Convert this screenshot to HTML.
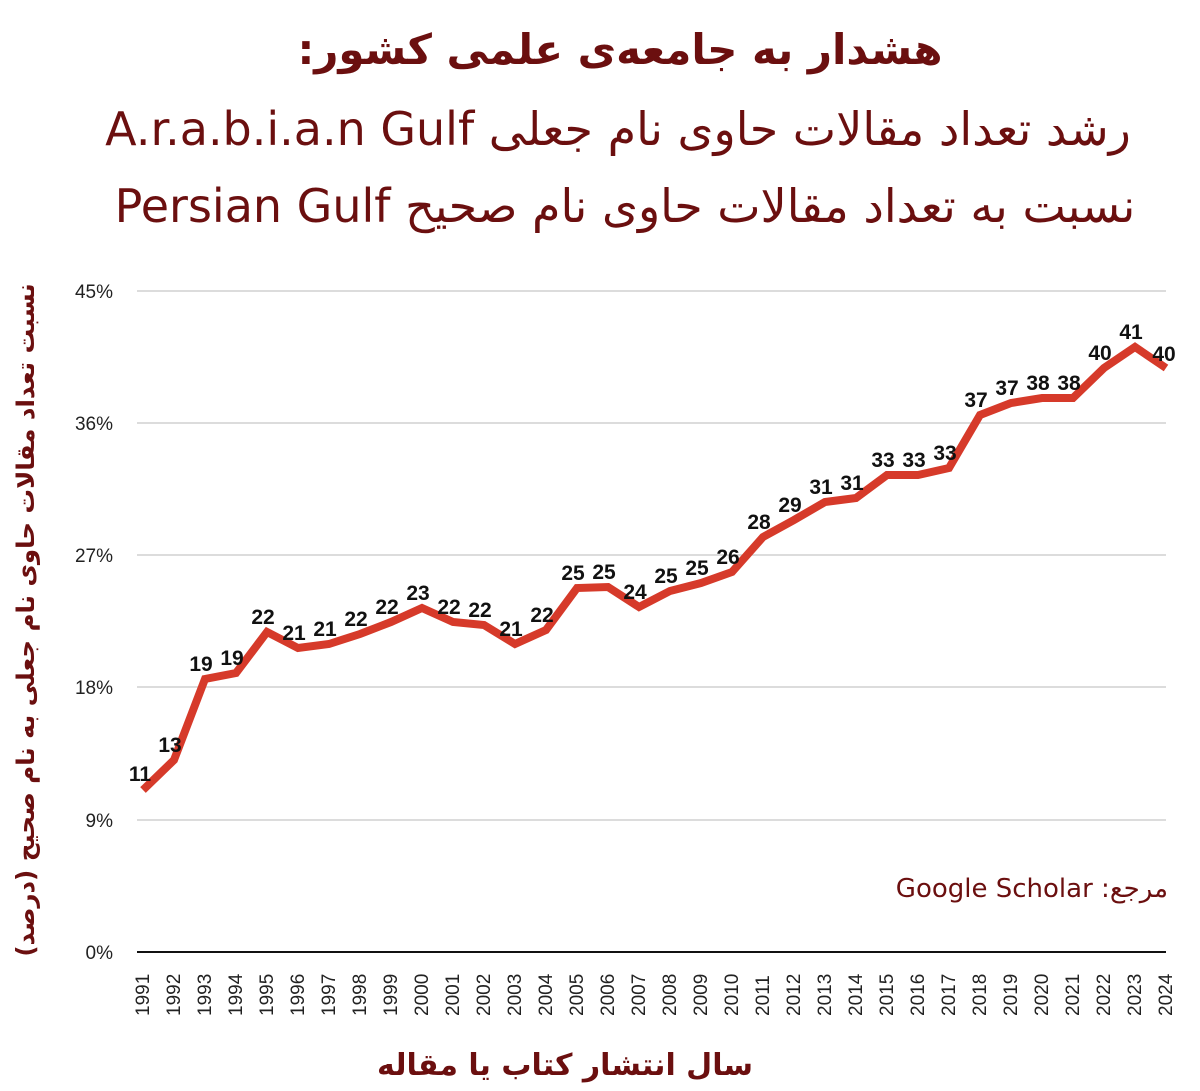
<!DOCTYPE html>
<html><head><meta charset="utf-8"><style>
body{margin:0;background:#fff;}
svg{display:block}
.t{font-family:"DejaVu Sans","Liberation Sans",sans-serif;fill:#6b0f0f}
.ax{font-family:"Liberation Sans",sans-serif;font-size:19px;fill:#222}
.lb{font-family:"Liberation Sans",sans-serif;font-size:21px;font-weight:bold;fill:#111}
</style></head><body>
<svg width="1200" height="1091" viewBox="0 0 1200 1091" xmlns="http://www.w3.org/2000/svg">
<text class="t" x="620" y="64" text-anchor="middle" font-size="42" font-weight="bold" direction="rtl">هشدار به جامعه‌ی علمی کشور:</text>
<text class="t" x="618" y="145" text-anchor="middle" font-size="46" direction="rtl">رشد تعداد مقالات حاوی نام جعلی A.r.a.b.i.a.n Gulf</text>
<text class="t" x="625" y="222" text-anchor="middle" font-size="46" direction="rtl">نسبت به تعداد مقالات حاوی نام صحیح Persian Gulf</text>
<g stroke="#c8c8c8" stroke-width="1.2">
<line x1="137" y1="291" x2="1166" y2="291"/><line x1="137" y1="423" x2="1166" y2="423"/>
<line x1="137" y1="555" x2="1166" y2="555"/><line x1="137" y1="687" x2="1166" y2="687"/>
<line x1="137" y1="820" x2="1166" y2="820"/></g>
<line x1="137" y1="952" x2="1166" y2="952" stroke="#111" stroke-width="2"/>
<g class="ax" text-anchor="end">
<text x="113" y="298">45%</text><text x="113" y="430">36%</text><text x="113" y="562">27%</text>
<text x="113" y="694">18%</text><text x="113" y="827">9%</text><text x="113" y="959">0%</text></g>
<text class="t" transform="translate(34,620) rotate(-90)" text-anchor="middle" font-size="24.5" font-weight="bold" direction="rtl">نسبت تعداد مقالات حاوی نام جعلی به نام صحیح (درصد)</text>
<text class="t" x="565" y="1075" text-anchor="middle" font-size="30" font-weight="bold" direction="rtl">سال انتشار کتاب یا مقاله</text>
<text class="t" x="1168" y="897" text-anchor="end" font-size="26" font-family="Liberation Sans">Google Scholar :مرجع</text>
<g class="ax" font-size="19">
<text transform="translate(149,1016) rotate(-90)">1991</text><text transform="translate(180,1016) rotate(-90)">1992</text><text transform="translate(211,1016) rotate(-90)">1993</text><text transform="translate(242,1016) rotate(-90)">1994</text><text transform="translate(273,1016) rotate(-90)">1995</text><text transform="translate(304,1016) rotate(-90)">1996</text><text transform="translate(335,1016) rotate(-90)">1997</text><text transform="translate(366,1016) rotate(-90)">1998</text><text transform="translate(397,1016) rotate(-90)">1999</text><text transform="translate(428,1016) rotate(-90)">2000</text><text transform="translate(459,1016) rotate(-90)">2001</text><text transform="translate(490,1016) rotate(-90)">2002</text><text transform="translate(521,1016) rotate(-90)">2003</text><text transform="translate(552,1016) rotate(-90)">2004</text><text transform="translate(583,1016) rotate(-90)">2005</text><text transform="translate(614,1016) rotate(-90)">2006</text><text transform="translate(645,1016) rotate(-90)">2007</text><text transform="translate(676,1016) rotate(-90)">2008</text><text transform="translate(707,1016) rotate(-90)">2009</text><text transform="translate(738,1016) rotate(-90)">2010</text><text transform="translate(769,1016) rotate(-90)">2011</text><text transform="translate(800,1016) rotate(-90)">2012</text><text transform="translate(831,1016) rotate(-90)">2013</text><text transform="translate(862,1016) rotate(-90)">2014</text><text transform="translate(893,1016) rotate(-90)">2015</text><text transform="translate(924,1016) rotate(-90)">2016</text><text transform="translate(955,1016) rotate(-90)">2017</text><text transform="translate(986,1016) rotate(-90)">2018</text><text transform="translate(1017,1016) rotate(-90)">2019</text><text transform="translate(1048,1016) rotate(-90)">2020</text><text transform="translate(1079,1016) rotate(-90)">2021</text><text transform="translate(1110,1016) rotate(-90)">2022</text><text transform="translate(1141,1016) rotate(-90)">2023</text><text transform="translate(1172,1016) rotate(-90)">2024</text>
</g>
<polyline fill="none" stroke="#d63a2a" stroke-width="8" points="143,790 174,760 205,679 236,673 267,632 298,648 329,644 360,634 391,622 422,608 453,622 484,625 515,644 546,630 577,588 608,587 639,607 670,591 701,583 732,572 763,537 794,520 825,502 856,498 887,475 918,475 949,468 980,415 1011,403 1042,398 1073,398 1104,368 1135,347 1166,368"/>
<g class="lb" text-anchor="middle">
<text x="140" y="781">11</text><text x="170" y="752">13</text><text x="201" y="671">19</text><text x="232" y="665">19</text><text x="263" y="624">22</text><text x="294" y="640">21</text><text x="325" y="636">21</text><text x="356" y="626">22</text><text x="387" y="614">22</text><text x="418" y="600">23</text><text x="449" y="614">22</text><text x="480" y="617">22</text><text x="511" y="636">21</text><text x="542" y="622">22</text><text x="573" y="580">25</text><text x="604" y="579">25</text><text x="635" y="599">24</text><text x="666" y="583">25</text><text x="697" y="575">25</text><text x="728" y="564">26</text><text x="759" y="529">28</text><text x="790" y="512">29</text><text x="821" y="494">31</text><text x="852" y="490">31</text><text x="883" y="467">33</text><text x="914" y="467">33</text><text x="945" y="460">33</text><text x="976" y="407">37</text><text x="1007" y="395">37</text><text x="1038" y="390">38</text><text x="1069" y="390">38</text><text x="1100" y="360">40</text><text x="1131" y="339">41</text><text x="1164" y="361">40</text>
</g>
</svg></body></html>
